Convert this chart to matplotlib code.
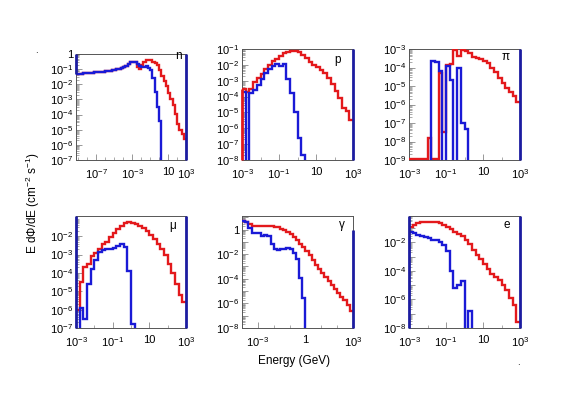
import numpy as np
import matplotlib
matplotlib.use("Agg")
import matplotlib.pyplot as plt
from matplotlib.ticker import FixedLocator, FixedFormatter, LogLocator, NullFormatter

plt.rcParams['font.family'] = ['Liberation Sans', 'DejaVu Sans']
plt.rcParams['mathtext.fontset'] = 'custom'
plt.rcParams['mathtext.rm'] = 'Liberation Sans'
plt.rcParams['mathtext.it'] = 'Liberation Sans:italic'
plt.rcParams['mathtext.default'] = 'regular'

RED = '#e3191c'
BLUE = '#1a1ad6'
NAVY = '#1c1ca0'

# all values are log10(E dPhi/dE), one per log-energy bin, None = empty bin
# neutrons: 0.25 decade bins from 10^-9.25 to 10^3 GeV
n_range = (-9.25, 3)
n_red = [-1.32, -1.3, -1.3, -1.28, -1.28, -1.27, -1.25, -1.24, -1.22, -1.2,
         -1.18, -1.17, -1.16, -1.14, -1.12, -1.1, -1.08, -1.05, -1.02, -0.98,
         -0.92, -0.85, -0.78, -0.65, -0.52, -0.5, -0.56, -0.85, -1.0, -0.75,
         -0.5, -0.42, -0.38, -0.4, -0.5, -0.6, -0.75, -1.05, -1.45, -1.8,
         -2.1, -2.55, -3.0, -3.4, -3.95, -4.6, -5.0, -5.3, -5.6]
n_blue = [-1.32, -1.3, -1.3, -1.28, -1.28, -1.27, -1.25, -1.24, -1.22, -1.2,
          -1.18, -1.17, -1.16, -1.14, -1.12, -1.1, -1.08, -1.05, -1.02, -0.98,
          -0.92, -0.85, -0.78, -0.65, -0.52, -0.5, -0.56, -0.65, -0.8, -0.88,
          -0.85, -0.8, -0.92, -1.05, -1.6, -2.5, -3.5, -4.4, None,
          None, None, None, None, None, None, None, None, None, None]

# protons: 0.2 decade bins from 10^-3 to 10^3 GeV
p_range = (-3, 3)
p_red = [-3.5, -3.7, -3.5, -3.1, -2.8, -2.55, -2.25, -2.0, -1.78, -1.6,
         -1.42, -1.28, -1.17, -1.11, -1.1, -1.17, -1.35, -1.58, -1.82, -2.02,
         -2.15, -2.3, -2.52, -2.8, -3.2, -3.65, -4.1, -4.7, -4.9, -5.5]
p_blue = [-3.7, None, -3.75, -3.6, -3.3, -2.9, -2.5, -2.25, -2.05, -1.95,
          -2.1, -1.95, -2.9, -3.8, -5.0, -6.6, -7.7, None, None, None,
          None, None, None, None, None, None, None, None, None, None]

# pions
pi_range = (-3, 3)
pi_red = [-8.92, -8.92, -8.92, -8.92, -8.92, -7.8, -8.92, -8.92, -4.3, -7.5,
          -3.85, -3.8, -3.05, -3.4, -3.05, -3.1, -3.2, -3.45, -3.5, -3.55,
          -3.65, -3.75, -4.0, -4.25, -4.55, -4.85, -5.1, -5.3, -5.55, -5.85]
pi_blue = [None, None, None, None, None, None, -3.65, -3.7, -4.2, None,
           -3.9, -4.7, None, -4.0, -7.0, -7.3, None, None, None, None,
           None, None, None, None, None, None, None, None, None, None]

# muons
mu_range = (-3, 3)
mu_red = [-6.0, -4.5, -3.7, -3.5, -3.1, -2.9, -2.7, -2.45, -2.3, -2.05,
          -1.8, -1.6, -1.42, -1.3, -1.25, -1.27, -1.33, -1.42, -1.55, -1.72,
          -1.92, -2.15, -2.4, -2.7, -3.05, -3.5, -4.0, -4.6, -5.2, -5.6]
mu_blue = [None, -5.9, -6.5, -4.6, -3.8, -3.3, -2.85, -2.75, -2.72, -2.7,
           -2.62, -2.55, -2.45, -2.6, -3.9, -6.8, None, None, None, None,
           None, None, None, None, None, None, None, None, None, None]

# photons: 0.2 decade bins from 10^-4 to 10^3 GeV
g_range = (-4, 3)
g_red = [0.7, 0.6, 0.45, 0.28, 0.28, 0.28, 0.28, 0.28, 0.27, 0.26,
         0.24, 0.17, 0.05, -0.05, -0.2, -0.35, -0.6, -0.85, -1.15, -1.45,
         -1.75, -2.1, -2.5, -2.88, -3.2, -3.53, -3.85, -4.15, -4.48, -4.8,
         -5.12, -5.45, -5.75, -6.1, -6.6]
g_blue = [0.7, 0.6, 0.1, -0.3, -0.25, -0.25, -0.5, -0.45, -0.55, -1.2,
          -1.6, -1.65, -1.55, -1.6, -1.5, -1.55, -1.9, -2.4, -3.9, -5.6,
          None, None, None, None, None, None, None, None, None, None,
          None, None, None, None, None]

# electrons
e_range = (-3, 3)
e_red = [-0.9, -0.75, -0.65, -0.58, -0.55, -0.54, -0.55, -0.58, -0.67, -0.8,
         -0.93, -1.08, -1.25, -1.4, -1.57, -1.8, -2.1, -2.5, -2.85, -3.15,
         -3.5, -3.85, -4.2, -4.4, -4.65, -5.0, -5.35, -5.9, -6.4, -7.6]
e_blue = [-1.25, -1.35, -1.45, -1.55, -1.62, -1.7, -1.8, -1.85, -1.95, -2.2,
          -2.6, -4.0, -5.2, -5.0, -4.7, None, -6.8, None, None, None,
          None, None, None, None, None, None, None, None, None, None]


def to_flux(exps):
    return np.array([1e-30 if v is None else 10.0 ** v for v in exps])


def label(d):
    if d == 0:
        return '1'
    if d == 1:
        return '10'
    return '$10^{%d}$' % d


W, H = 583, 409
fig = plt.figure(figsize=(W / 100, H / 100), dpi=100)

# frame in pixels: left, top, right, bottom
panels = [
    # frame, range, red, blue, ylim exps, x labels, y labels, y ticks, name, name pos, edge lines
    ((76, 54, 186, 160), n_range, n_red, n_blue, (-7, 0), [-7, -3, 1, 3],
     range(-7, 1), range(-7, 1), 'n', (178, 56), [(0, -1.3, 0), (1, -7, 0)]),
    ((242, 49, 353, 160), p_range, p_red, p_blue, (-8, -1), [-3, -1, 1, 3],
     range(-8, 0), range(-8, 0), 'p', (338, 60), [(0, -8, -3.5, RED), (1, -8, -1)]),
    ((409, 49, 520, 160), pi_range, pi_red, pi_blue, (-9, -3), [-3, -1, 1, 3],
     range(-9, -2), range(-9, -2), 'π', (506, 57), [(1, -9, -3)]),
    ((76, 216, 186, 328), mu_range, mu_red, mu_blue, (-7, -0.9), [-3, -1, 1, 3],
     range(-7, -1), range(-7, -1), 'μ', (173, 226), [(0, -7, -0.9), (1, -7, -0.9)]),
    ((242, 216, 353, 328), g_range, g_red, g_blue, (-8, 1.1), [-3, 0, 3],
     [0, -2, -4, -6, -8], range(-8, 2), 'γ', (342, 225), [(1, -8, 0)]),
    ((409, 216, 520, 328), e_range, e_red, e_blue, (-8, -0.15), [-3, -1, 1, 3],
     [-2, -4, -6, -8], range(-8, 0), 'e', (507, 225), [(0, -8, -0.15), (1, -8, -0.15)]),
]

for frame, xr, red, blue, ylim, xlab, ylab, ytk, name, npos, edges_hl in panels:
    left, top, right, bottom = frame
    ax = fig.add_axes([left / W, 1 - bottom / H, (right - left) / W, (bottom - top) / H])
    ax.set_xscale('log')
    ax.set_yscale('log')
    edges = np.logspace(xr[0], xr[1], len(red) + 1)
    ax.stairs(to_flux(red), edges, baseline=None, color=RED, lw=1.7, zorder=3)
    ax.stairs(to_flux(blue), edges, baseline=None, color=BLUE, lw=1.7, zorder=4)
    ax.set_xlim(10.0 ** xr[0], 10.0 ** xr[1])
    ax.set_ylim(10.0 ** ylim[0], 10.0 ** ylim[1])

    # ticks, ROOT style (inside, labels only on some decades)
    ax.xaxis.set_major_locator(FixedLocator([10.0 ** d for d in xlab]))
    ax.xaxis.set_major_formatter(FixedFormatter([label(d) for d in xlab]))
    dec = np.arange(int(np.ceil(xr[0])), int(xr[1]) + 1)
    ax.xaxis.set_minor_locator(FixedLocator([10.0 ** d for d in dec]))
    ax.xaxis.set_minor_formatter(NullFormatter())
    ylab = list(ylab)
    ytk = list(ytk)
    ax.yaxis.set_major_locator(FixedLocator([10.0 ** d for d in ytk]))
    ax.yaxis.set_major_formatter(FixedFormatter([label(d) if d in ylab else '' for d in ytk]))
    ax.yaxis.set_minor_locator(LogLocator(base=10, subs=np.arange(2, 10), numticks=30))
    ax.yaxis.set_minor_formatter(NullFormatter())
    ax.tick_params(which='both', direction='in', labelsize=8, color='#888888',
                   top=False, right=False)
    ax.tick_params(which='major', length=4.5, width=0.6)
    ax.tick_params(which='minor', length=2.5, width=0.5)
    ax.tick_params(axis='x', pad=5)
    ax.tick_params(axis='y', pad=2)
    for s in ax.spines.values():
        s.set_color('#555555')
        s.set_linewidth(0.7)

    for hl in edges_hl:
        side, lo, hi = hl[0], hl[1], hl[2]
        col = hl[3] if len(hl) > 3 else NAVY
        x = ax.get_xlim()[side]
        ax.vlines(x, 10.0 ** lo, 10.0 ** hi, color=col, lw=2.0, zorder=5, clip_on=False)

    fig.text(npos[0] / W, 1 - npos[1] / H, name, ha='center', va='center', fontsize=8.5)

fig.text(33 / W, 1 - 203 / H, 'E dΦ/dE (cm$^{-2}$ s$^{-1}$)', rotation=90,
         ha='center', va='center', fontsize=8.5)
fig.text(294 / W, 1 - 361 / H, 'Energy (GeV)', ha='center', va='center', fontsize=8.5)
fig.text(36 / W, 1 - 50 / H, '.', ha='center', va='center', fontsize=7)
fig.text(518 / W, 1 - 362 / H, '.', ha='center', va='center', fontsize=7)

fig.savefig('out.png', dpi=100)
